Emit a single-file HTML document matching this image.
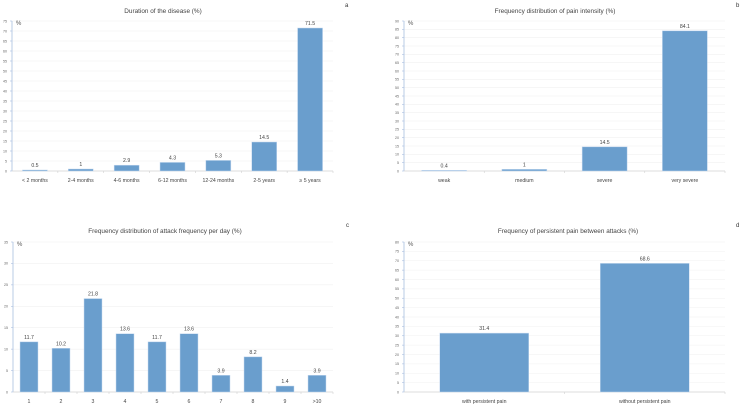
<!DOCTYPE html>
<html><head><meta charset="utf-8"><style>
html,body{margin:0;padding:0;background:#fff;}
svg{display:block;font-family:"Liberation Sans",sans-serif;}
</style></head><body>
<svg id="s" width="742" height="406"></svg>
<script>
const catsA=["< 2 months","2-4 months","4-6 months","6-12 months","12-24 months","2-5 years","≥ 5 years"];
const valsA=[0.5,1,2.9,4.3,5.3,14.5,71.5];
const catsB=["weak","medium","severe","very severe"];
const valsB=[0.4,1,14.5,84.1];
const catsC=["1","2","3","4","5","6","7","8","9",">10"];
const valsC=[11.7,10.2,21.8,13.6,11.7,13.6,3.9,8.2,1.4,3.9];
const catsD=["with persistent pain","without persistent pain"];
const valsD=[31.4,68.6];
const NS="http://www.w3.org/2000/svg";
const svg=document.getElementById('s');
function mk(t,a,p){const e=document.createElementNS(NS,t);for(const k in a)e.setAttribute(k,a[k]);(p||svg).appendChild(e);return e;}
function chart(o){
  const g=mk('g',{});
  
  
  const x0=o.x0,x1=o.x1,yt=o.yt,yb=o.yb;
  const y=v=>yb-(v/o.max)*(yb-yt);
  const cw=(x1-x0)/o.cats.length;
  for(let v=0;v<=o.max;v+=o.step){
    if(v>0){const gl=mk('line',{x1:x0,x2:x1,y1:y(v),y2:y(v),stroke:'#f0f0f0','stroke-width':0.6},g);
      }
    mk('line',{x1:x0-2,x2:x0,y1:y(v),y2:y(v),stroke:'#a9bfe0','stroke-width':0.6},g);
    const t=mk('text',{x:x0-5,y:y(v)+1.3,'font-size':3.6,fill:'#666','text-anchor':'end'},g);
    t.textContent=v;
    
  }
  const ax=mk('line',{x1:x0,x2:x0,y1:yt,y2:yb,stroke:'#a9bfe0','stroke-width':0.8},g);
  
  const xa=mk('line',{x1:x0,x2:x1,y1:yb,y2:yb,stroke:'#d0d0d0','stroke-width':0.8},g);
  
  const pu=mk('text',{x:x0+4,y:yt+4,'font-size':6,fill:'#555'},g);pu.textContent='%';
  
  o.cats.forEach((c,i)=>{
    mk('line',{x1:x0+cw*(i+1),x2:x0+cw*(i+1),y1:yb,y2:yb+2,stroke:'#d0d0d0','stroke-width':0.6},g);
    const cx=x0+cw*(i+0.5),v=o.vals[i];
    const r=mk('rect',{x:cx-o.bw/2,y:y(v),width:o.bw,height:yb-y(v),fill:'#6a9ecd',stroke:'#c7daf0','stroke-width':0.5},g);
    
    
    const vl=mk('text',{x:cx,y:y(v)-3,'font-size':5.2,fill:'#444','text-anchor':'middle'},g);vl.textContent=v;
    
    const cl=mk('text',{x:cx,y:yb+11,'font-size':5.2,fill:'#444','text-anchor':'middle'},g);cl.textContent=c;
    
  });
  const tt=mk('text',{x:o.tx,y:o.ty,'font-size':6.4,fill:'#444','text-anchor':'middle'},g);tt.textContent=o.title;
  
  const lt=mk('text',{x:o.lx,y:o.ly,'font-size':6,fill:'#333'},g);lt.textContent=o.letter;
  
}
chart({name:'chart-a',cats:catsA,vals:valsA,max:75,step:5,x0:12,x1:333,yt:21,yb:171,bw:25,title:'Duration of the disease (%)',tx:163,ty:13,letter:'a',lx:345,ly:7});
chart({name:'chart-b',cats:catsB,vals:valsB,max:90,step:5,x0:404,x1:725,yt:21,yb:171,bw:45,title:'Frequency distribution of pain intensity (%)',tx:555,ty:13,letter:'b',lx:736,ly:7});
chart({name:'chart-c',cats:catsC,vals:valsC,max:35,step:5,x0:13,x1:333,yt:242,yb:392,bw:18,title:'Frequency distribution of attack frequency per day (%)',tx:165,ty:233,letter:'c',lx:346,ly:227});
chart({name:'chart-d',cats:catsD,vals:valsD,max:80,step:5,x0:404,x1:725,yt:242,yb:392,bw:89,title:'Frequency of persistent pain between attacks (%)',tx:568,ty:233,letter:'d',lx:736,ly:227});
</script>
</body></html>
